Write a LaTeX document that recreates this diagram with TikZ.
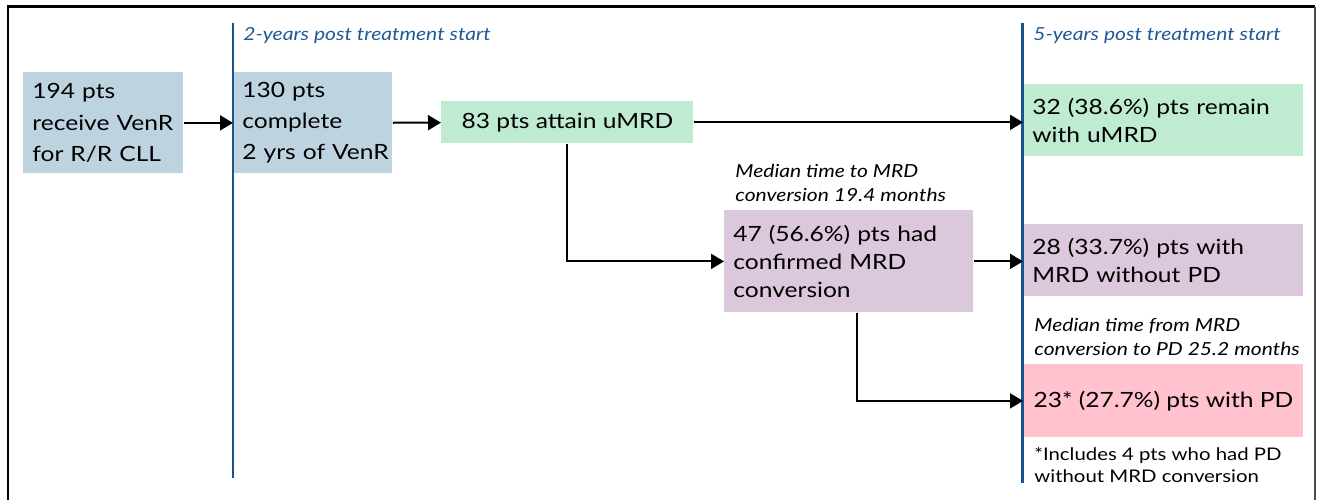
\documentclass[tikz,border=0pt]{standalone}
\usepackage{fontspec}
\setmainfont[FakeStretch=1.17]{Lato}
\usetikzlibrary{arrows.meta}
\definecolor{boxblue}{RGB}{190,211,224}
\definecolor{boxgreen}{RGB}{192,235,211}
\definecolor{boxpurple}{RGB}{220,200,220}
\definecolor{boxpink}{RGB}{255,194,206}
\definecolor{lineblue}{RGB}{25,85,140}
\definecolor{labelblue}{RGB}{31,90,150}
\begin{document}
\begin{tikzpicture}[x=0.5pt,y=-0.5pt,
  box/.style={anchor=north west, inner xsep=4.5pt, inner ysep=0pt, align=left, minimum height=#1},
  maintext/.style={font=\fontsize{10.5}{14.2}\selectfont},
  tallertext/.style={font=\fontsize{10.5}{15.6}\selectfont},
  note/.style={anchor=north west, inner sep=0pt, align=left, font=\fontsize{9}{11.7}\selectfont\itshape},
  period/.style={anchor=base west, inner sep=0pt, text=labelblue, font=\fontsize{9}{11.7}\selectfont\itshape},
  vline/.style={draw=lineblue, line width=1.2pt},
  arr/.style={-{Triangle[length=6.5pt,width=7.5pt]}, line width=1pt}]
\useasboundingbox (0,0) rectangle (1317,500);
% frame
\draw[line width=1.3pt] (8,500) -- (8,6.5) -- (1315,6.5);
\draw[line width=0.6pt, black!70] (1315,6.5) -- (1315,500);
% boxes
\node[box=50.5pt, fill=boxblue, text width=71pt, tallertext] (b1) at (23,72) {194 pts\\receive VenR\\for R/R CLL};
\node[box=50.5pt, fill=boxblue, text width=70.5pt, tallertext] (b2) at (233,72) {130 pts\\complete\\\mbox{2 yrs of VenR}};
\node[box=21pt, fill=boxgreen, minimum width=126pt, align=center, maintext] (b3) at (441,101) {83 pts attain uMRD};
\node[box=36pt, fill=boxgreen, text width=131pt, maintext] (r1) at (1023,84) {32 (38.6\%) pts remain\\with uMRD};
\node[box=51pt, fill=boxpurple, text width=115.5pt, maintext] (pu) at (724,210) {47 (56.6\%) pts had\\confirmed MRD\\conversion};
\node[box=36pt, fill=boxpurple, text width=131pt, maintext] (r2) at (1023,224) {28 (33.7\%) pts with\\MRD without PD};
\node[box=36.5pt, fill=boxpink, minimum width=140pt, align=center, maintext] (r3) at (1023,364) {23* (27.7\%) pts with PD};
% notes
\node[note] (m1) at (735,164) {Median time to MRD\\conversion 19.4 months};
\node[note] (m2) at (1034,318) {Median time from MRD\\conversion to PD 25.2 months};
\node[anchor=north west, inner sep=0pt, align=left, font=\fontsize{8.7}{11.2}\selectfont] (fn) at (1034,447) {*Includes 4 pts who had PD\\without MRD conversion};
\node[period] (p1) at (243,40) {2-years post treatment start};
\node[period] (p2) at (1033,40) {5-years post treatment start};
% timeline lines
\draw[vline] (232.7,23) -- (232.7,478);
\draw[vline] (1022.3,23) -- (1022.3,483);
% arrows
\draw[arr] (b1) -- (b2);
\draw[arr] (b2) -- (b3);
\draw[arr] (b3.east) -- (b3.east -| r1.west);
\draw[arr] (b3.south) |- (pu.west);
\draw[arr] (pu.east) -- (pu.east -| r2.west);
\draw[arr] ([xshift=4pt]pu.south) |- (r3.west);
\end{tikzpicture}
\end{document}
